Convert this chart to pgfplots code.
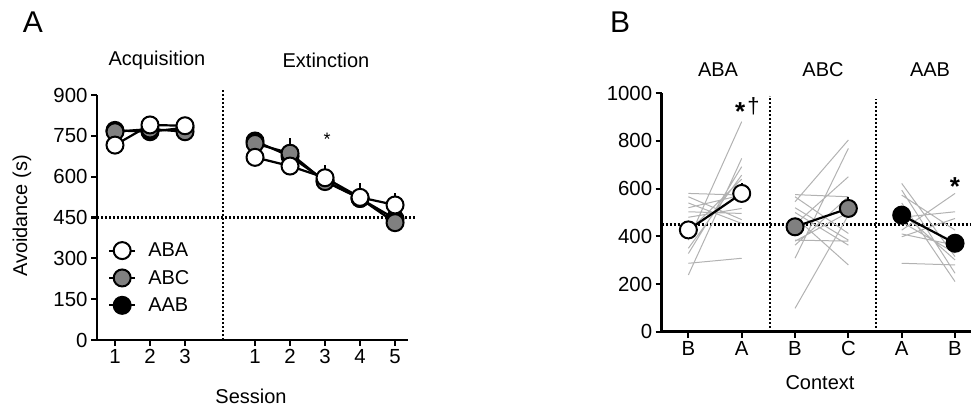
\documentclass[border=0pt]{standalone}
\usepackage{pgfplots}
\pgfplotsset{compat=1.18}
\usepackage{fontspec}
\setmainfont{Liberation Sans}
\definecolor{mgray}{RGB}{128,128,128}
\definecolor{lgray}{RGB}{178,178,178}
\tikzset{dotl/.style={black, line width=2.2pt, dash pattern=on 2pt off 2pt}}
\pgfplotsset{
  gp/.style={
    scale only axis, anchor=south west,
    axis x line*=bottom, axis y line*=left,
    axis line style={line width=2.5pt,-},
    tick style={line width=2.2pt,black},
    major tick length=6pt, tick align=outside,
    tick label style={font=\fontsize{20.4}{22}\selectfont},
    /pgf/number format/assume math mode=true,
    /pgf/number format/1000 sep={},
    clip=false,
  },
  meanplot/.style={black, line width=2.2pt, mark=*, mark size=8.5pt,
    mark options={fill=#1, draw=black, line width=2pt},
    error bars/.cd, y dir=plus, y explicit, error mark=none,
    error bar style={line width=2pt, black}, /pgfplots/.cd},
}
\begin{document}
\begin{tikzpicture}
\useasboundingbox (0pt,0pt) rectangle (971pt,409pt);
% ---------------- Panel A ----------------
\begin{axis}[gp, at={(97pt,69pt)}, width=311pt, height=245pt,
  xmin=0.486, xmax=9.37, ymin=0, ymax=900,
  xtick={1,2,3,5,6,7,8,9}, xticklabels={1,2,3,1,2,3,4,5},
  ytick={0,150,300,450,600,750,900},
  reverse legend,
  legend style={at={(axis description cs:0.035,0.405)}, anchor=north west,
    draw=none, fill=none, font=\fontsize{20}{22}\selectfont,
    row sep=8pt, inner sep=0pt, cells={anchor=west}},
  legend image code/.code={\draw[mark repeat=2, mark phase=2] plot coordinates {(0pt,0pt) (13pt,0pt) (26pt,0pt)}; \path (36pt,0pt);},
]
\draw[dotl] (axis cs:0.486,450) -- (axis cs:9.6,450);
\draw[dotl] (axis cs:4.09,0) -- (axis cs:4.09,925);
% AAB
\addplot[meanplot=black] coordinates {
 (1,770) +- (0,15) (2,765) +- (0,15) (3,780) +- (0,15)
};
\addlegendentry{AAB}
\addplot[forget plot, meanplot=black] coordinates {
 (5,731) +- (0,20) (6,675) +- (0,25) (7,585) +- (0,25) (8,520) +- (0,25) (9,445) +- (0,25)
};
% ABC
\addplot[meanplot=mgray] coordinates {
 (1,765) +- (0,15) (2,775) +- (0,15) (3,765) +- (0,15)
};
\addlegendentry{ABC}
\addplot[forget plot, meanplot=mgray] coordinates {
 (5,722) +- (0,20) (6,686) +- (0,55) (7,582) +- (0,25) (8,520) +- (0,25) (9,431) +- (0,25)
};
% ABA
\addplot[meanplot=white] coordinates {
 (1,716) +- (0,15) (2,790) +- (0,15) (3,787) +- (0,15)
};
\addlegendentry{ABA}
\addplot[forget plot, meanplot=white] coordinates {
 (5,671) +- (0,20) (6,639) +- (0,30) (7,596) +- (0,47) (8,524) +- (0,54) (9,496) +- (0,43)
};
\node[font=\fontsize{18}{20}\selectfont] at (axis cs:7.06,738) {*};
\end{axis}
\node[font=\fontsize{30}{32}\selectfont] at (33pt,387pt) {A};
\node[font=\fontsize{20}{22}\selectfont] at (157pt,349pt) {Acquisition};
\node[font=\fontsize{20}{22}\selectfont] at (326pt,349pt) {Extinction};
\node[font=\fontsize{20}{22}\selectfont] at (251pt,13pt) {Session};
\node[font=\fontsize{20}{22}\selectfont, rotate=90] at (22pt,193pt) {Avoidance (s)};
% ---------------- Panel B ----------------
\begin{axis}[gp, at={(661.7pt,77.3pt)}, width=320pt, height=238.4pt,
  xmin=0.5, xmax=6.5, ymin=0, ymax=1000,
  xtick={1,2,3,4,5,6}, xticklabels={B,A,B,C,A,B},
  ytick={0,200,400,600,800,1000},
  unbounded coords=jump,
]
\draw[dotl] (axis cs:0.5,450) -- (axis cs:6.5,450);
\draw[dotl] (axis cs:2.53,0) -- (axis cs:2.53,990);
\draw[dotl] (axis cs:4.52,0) -- (axis cs:4.52,975);
% individual subjects
\addplot[lgray, line width=1pt] coordinates {
 (1,384)(2,881) (1,nan)
 (1,238)(2,727) (1,nan)
 (1,328)(2,692) (1,nan)
 (1,350)(2,657) (1,nan)
 (1,420)(2,640) (1,nan)
 (1,580)(2,573) (1,nan)
 (1,566)(2,470) (1,nan)
 (1,540)(2,454) (1,nan)
 (1,520)(2,573) (1,nan)
 (1,503)(2,496) (1,nan)
 (1,480)(2,517) (1,nan)
 (1,287)(2,308)
};
\addplot[lgray, line width=1pt] coordinates {
 (3,545)(4,804) (3,nan)
 (3,308)(4,769) (3,nan)
 (3,450)(4,650) (3,nan)
 (3,575)(4,566) (3,nan)
 (3,98)(4,489) (3,nan)
 (3,566)(4,412) (3,nan)
 (3,520)(4,384) (3,nan)
 (3,384)(4,380) (3,nan)
 (3,500)(4,363) (3,nan)
 (3,480)(4,280) (3,nan)
 (3,363)(4,566) (3,nan)
 (3,380)(4,500)
};
\addplot[lgray, line width=1pt] coordinates {
 (5,622)(6,315) (5,nan)
 (5,594)(6,245) (5,nan)
 (5,573)(6,426) (5,nan)
 (5,540)(6,210) (5,nan)
 (5,500)(6,301) (5,nan)
 (5,480)(6,503) (5,nan)
 (5,460)(6,330) (5,nan)
 (5,426)(6,580) (5,nan)
 (5,410)(6,363) (5,nan)
 (5,398)(6,475) (5,nan)
 (5,287)(6,280)
};
% group means
\addplot[meanplot=white] coordinates {(1,427) +- (0,25) (2,580) +- (0,42)};
\addplot[meanplot=mgray] coordinates {(3,440) +- (0,30) (4,517) +- (0,49)};
\addplot[meanplot=black] coordinates {(5,489) +- (0,25) (6,371) +- (0,25)};
\node[font=\fontsize{26}{28}\selectfont\bfseries] at (axis cs:1.97,925) {*};
\node[font=\fontsize{22}{24}\selectfont] at (axis cs:2.22,945) {\char"2020};
\node[font=\fontsize{26}{28}\selectfont\bfseries] at (axis cs:6.0,610) {*};
\end{axis}
\node[font=\fontsize{30}{32}\selectfont] at (620pt,387pt) {B};
\node[font=\fontsize{20}{22}\selectfont] at (718pt,339pt) {ABA};
\node[font=\fontsize{20}{22}\selectfont] at (823pt,339pt) {ABC};
\node[font=\fontsize{20}{22}\selectfont] at (930pt,339pt) {AAB};
\node[font=\fontsize{20}{22}\selectfont] at (820pt,26pt) {Context};
\end{tikzpicture}
\end{document}
